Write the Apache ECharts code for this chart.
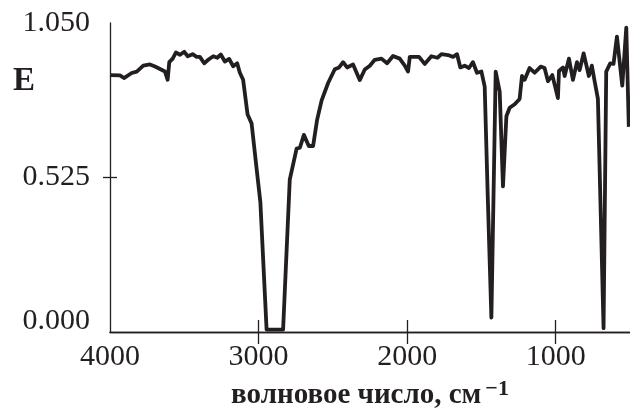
<!DOCTYPE html>
<html>
<head>
<meta charset="utf-8">
<script src="https://cdn.jsdelivr.net/npm/echarts@6/dist/echarts.min.js"></script>
<style>
  html, body { margin: 0; padding: 0; background: #fff; }
  #chart { width: 630px; height: 412px; }
</style>
</head>
<body>
<div id="chart"></div>
<script>
// волновое число (см-1)
const waveNumbers = [
	4000, 3933, 3906, 3854, 3820, 3776, 3731, 3697, 3630, 3612,
	3601, 3578, 3556, 3529, 3500, 3477, 3444, 3417, 3395, 3366,
	3339, 3305, 3278, 3254, 3227, 3198, 3171, 3144, 3126, 3104,
	3074, 3047, 3013, 2988, 2946, 2835, 2790, 2744, 2722, 2695,
	2662, 2633, 2606, 2576, 2532, 2487, 2458, 2431, 2404, 2364,
	2319, 2285, 2251, 2218, 2173, 2135, 2095, 2050, 2016, 1994,
	1982, 1920, 1882, 1837, 1796, 1769, 1725, 1691, 1664, 1642,
	1613, 1584, 1557, 1530, 1500, 1478, 1458, 1433, 1404, 1377,
	1355, 1332, 1310, 1276, 1243, 1227, 1209, 1176, 1142, 1101,
	1075, 1052, 1023, 985, 978, 951, 940, 911, 884, 857,
	839, 812, 777, 757, 738, 716, 678, 660, 633, 611,
	588, 552, 525, 508
];
// E
const absorbance = [
	0.873, 0.872, 0.863, 0.880, 0.885, 0.905, 0.909, 0.902, 0.885, 0.857,
	0.917, 0.929, 0.950, 0.942, 0.952, 0.937, 0.944, 0.935, 0.935, 0.913,
	0.925, 0.937, 0.932, 0.943, 0.919, 0.928, 0.903, 0.913, 0.881, 0.857,
	0.739, 0.709, 0.554, 0.442, 0.008, 0.008, 0.518, 0.623, 0.626, 0.670,
	0.632, 0.632, 0.721, 0.786, 0.846, 0.893, 0.899, 0.917, 0.899, 0.909,
	0.856, 0.892, 0.905, 0.925, 0.929, 0.913, 0.938, 0.929, 0.905, 0.885,
	0.935, 0.935, 0.911, 0.937, 0.932, 0.944, 0.941, 0.935, 0.944, 0.899,
	0.905, 0.897, 0.917, 0.881, 0.885, 0.834, 0.471, 0.049, 0.885, 0.817,
	0.495, 0.733, 0.762, 0.774, 0.792, 0.870, 0.857, 0.897, 0.881, 0.902,
	0.897, 0.852, 0.873, 0.795, 0.887, 0.899, 0.870, 0.929, 0.857, 0.917,
	0.890, 0.947, 0.870, 0.905, 0.852, 0.792, 0.013, 0.885, 0.913, 0.911,
	1.004, 0.837, 1.034, 0.697
];
const xTicks = [1000, 2000, 3000, 4000];
const yTicks = [0, 0.525, 1.05];

const ink = '#231f20';
const serif = '"Liberation Serif", "Times New Roman", serif';

const chart = echarts.init(document.getElementById('chart'));

const option = {
	animation: false,
	title: {
		text: 'E',
		left: 8,
		top: 60,
		textStyle: { fontFamily: serif, fontWeight: 'bold', fontSize: 33, color: ink }
	},
	grid: { left: 110, right: 0, top: 23, bottom: 80, outerBoundsMode: 'none' },
	xAxis: [{
		type: 'value',
		position: 'bottom',
		min: 500,
		max: 4000,
		interval: 500,
		inverse: true,
		splitLine: { show: false },
		axisLine: { lineStyle: { color: ink, width: 1.3 } },
		axisTick: {
			inside: true, length: 12, customValues: [1000, 2000, 3000],
			lineStyle: { color: ink, width: 1.3 }
		},
		axisLabel: {
			customValues: xTicks,
			margin: 10,
			fontFamily: serif,
			fontSize: 30,
			color: ink,
			formatter: (v) => String(v)
		},
		name: 'волновое число, см{sup|−1}',
		nameLocation: 'middle',
		nameGap: 46,
		nameTextStyle: {
			fontFamily: serif,
			fontWeight: 'bold',
			fontSize: 29,
			color: ink,
			padding: [0, 0, 0, 0],
			rich: {
				sup: { fontFamily: serif, fontWeight: 'bold', fontSize: 22, color: ink, padding: [0, 0, 14, 4] }
			}
		}
	}, {
		type: 'value',
		position: 'top',
		min: 500,
		max: 4000,
		interval: 500,
		inverse: true,
		splitLine: { show: false },
		axisLine: { lineStyle: { color: ink, width: 1.3 } },
		axisTick: {
			inside: true, length: 12, customValues: [1000, 2000, 3000],
			lineStyle: { color: ink, width: 1.3 }
		},
		axisLabel: { show: false }
	}],
	yAxis: [{
		type: 'value',
		min: 0,
		max: 1.05,
		interval: 0.525,
		splitLine: { show: false },
		axisLine: { show: true, lineStyle: { color: ink, width: 1.3 } },
		axisTick: { length: 7, customValues: [0.525], lineStyle: { color: ink, width: 1.3 } },
		axisLabel: {
			customValues: yTicks,
			margin: 20,
			fontFamily: serif,
			fontSize: 30,
			color: ink,
			// the bottom label sits a bit above its tick in the original
			formatter: (v) => v === 0 ? '{low|' + v.toFixed(3) + '}' : v.toFixed(3),
			rich: {
				low: { fontFamily: serif, fontSize: 30, color: ink, padding: [0, 0, 22, 0] }
			}
		}
	}, {
		type: 'value',
		position: 'left',
		min: 0,
		max: 1.05,
		interval: 0.525,
		splitLine: { show: false },
		axisLine: { show: false },
		axisTick: { inside: true, length: 7, customValues: [0.525], lineStyle: { color: ink, width: 1.3 } },
		axisLabel: { show: false }
	}],
	series: [{
		type: 'line',
		data: waveNumbers.map((w, i) => [w, absorbance[i]]),
		showSymbol: false,
		lineStyle: { color: ink, width: 3.8, join: 'round' },
		clip: true
	}]
};

chart.setOption(option);
</script>
</body>
</html>
